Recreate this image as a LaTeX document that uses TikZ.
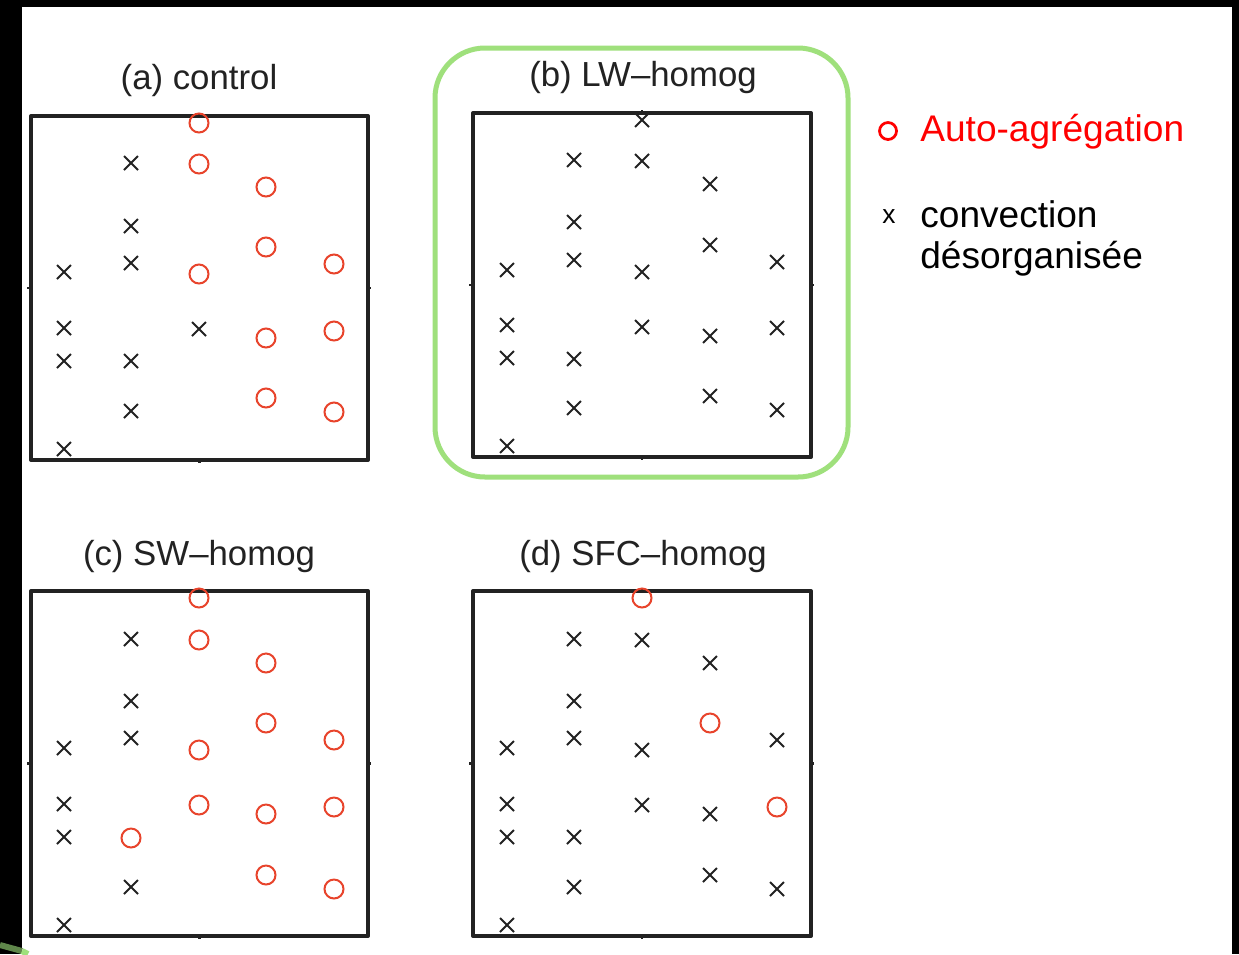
\documentclass[tikz,border=0pt]{standalone}
\usepackage{fontspec}
\setmainfont{Liberation Sans}
\usetikzlibrary{shapes.misc}
\definecolor{ink}{HTML}{222222}
\definecolor{agg}{HTML}{E8442C}
\definecolor{hl}{HTML}{9FE07C}
\tikzset{
  xm/.style={draw=ink, line width=0.04cm, cross out, inner sep=0pt, minimum size=0.24cm},
  om/.style={draw=agg, line width=0.04cm, circle, inner sep=0pt, minimum size=0.38cm},
  frame/.style={draw=ink, line width=0.08cm, line cap=round, line join=round},
  tick/.style={draw=ink, line width=0.05cm},
  ttl/.style={anchor=base, inner sep=0pt, text=ink, font=\fontsize{19.8}{24}\selectfont},
  leg/.style={anchor=base west, inner sep=0pt, font=\fontsize{21.1}{25}\selectfont},
}
\begin{document}
\begin{tikzpicture}[x=0.02cm,y=-0.02cm]
\useasboundingbox (0,0) rectangle (1239,954);
\fill[white] (0,0) rectangle (1239,954);
\fill[black] (0,0) rectangle (22,954);
\fill[black] (0,0) rectangle (1239,7);
\fill[black] (1232,0) rectangle (1239,954);
\draw[hl!60!black, line width=0.12cm] (0,945) -- (22,951);
\draw[hl, line width=0.12cm] (22,951) -- (28,954);

% highlight around (b)
\draw[hl, line width=0.1cm, rounded corners=1cm] (435,48) rectangle (848,477);

% titles
\node[ttl] (ta) at (199,89) {(a) control};
\node[ttl] (tb) at (643,86) {(b) LW–homog};
\node[ttl] (tc) at (199,565) {(c) SW–homog};
\node[ttl] (td) at (643,565) {(d) SFC–homog};

% frames with mid ticks
\foreach \l/\t/\r/\b in {31/116/368/460, 473/113/811/457, 31/591/368/936, 473/591/811/936}{
  \draw[frame] (\l,\t) rectangle (\r,\b);
  \pgfmathsetmacro{\mx}{(\l+\r)/2}
  \pgfmathsetmacro{\my}{(\t+\b)/2}
  \draw[tick] (\l-4,\my) -- (\l,\my);
  \draw[tick] (\r,\my) -- (\r+3,\my);
  \draw[tick] (\mx,\t-3) -- (\mx,\t);
  \draw[tick] (\mx,\b) -- (\mx,\b+3);
}

% panel (a)
\foreach \p in {(131,163),(131,226),(131,263),(64,272),(199,329),(64,328),(64,361),(131,361),(131,411),(64,449)}
  \node[xm] at \p {};
\foreach \p in {(199,123),(199,164),(266,187),(266,247),(334,264),(199,274),(266,338),(334,331),(266,398),(334,412)}
  \node[om] at \p {};

% panel (b)
\foreach \p in {(642,120),(574,160),(642,161),(710,184),(574,222),(710,245),(574,260),(507,270),(642,272),(777,262),(507,325),(642,327),(710,336),(777,328),(507,358),(574,359),(710,396),(574,408),(777,410),(507,446)}
  \node[xm] at \p {};

% panel (c)
\foreach \p in {(131,639),(131,701),(131,738),(64,748),(64,804),(64,837),(131,887),(64,925)}
  \node[xm] at \p {};
\foreach \p in {(199,598),(199,640),(266,663),(266,723),(334,740),(199,750),(199,805),(266,814),(334,807),(131,838),(266,875),(334,889)}
  \node[om] at \p {};

% panel (d)
\foreach \p in {(574,639),(642,640),(710,663),(574,701),(574,738),(507,748),(642,750),(777,740),(507,804),(642,805),(710,814),(507,837),(574,837),(574,887),(710,875),(777,889),(507,925)}
  \node[xm] at \p {};
\foreach \p in {(642,598),(710,723),(777,807)}
  \node[om] at \p {};

% legend
\node[draw=red, line width=0.055cm, circle, inner sep=0pt, minimum size=0.34cm] (lo) at (888,131) {};
\node[leg, text=red] (la) at (920,141) {Auto-agrégation};
\node[anchor=base, inner sep=0pt, font=\fontsize{15}{18}\selectfont] (lx) at (889,223) {x};
\node[leg] (lc) at (920,227) {convection};
\node[leg] (ld) at (920,268) {désorganisée};
\end{tikzpicture}
\end{document}
